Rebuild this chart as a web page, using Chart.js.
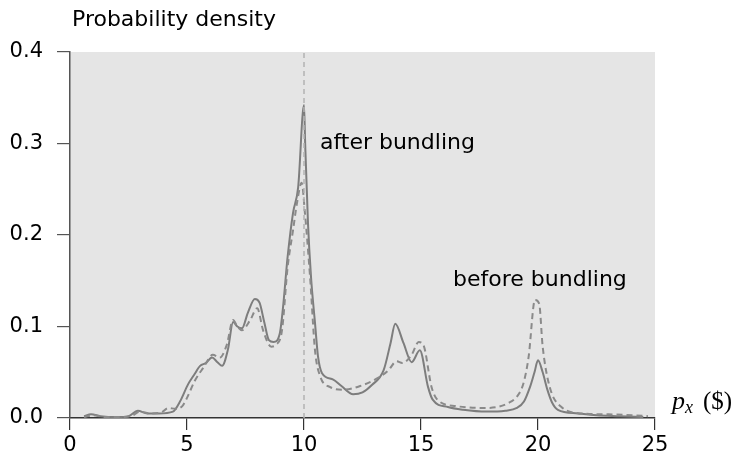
<!DOCTYPE html>
<html>
<head>
<meta charset="utf-8">
<script src="https://cdn.jsdelivr.net/npm/chart.js@4.4.1/dist/chart.umd.min.js"></script>
<style>
  html, body { margin: 0; padding: 0; background: #fff; }
  #wrap { width: 743px; height: 470px; }
</style>
</head>
<body>
<div id="wrap"><canvas id="densidade" width="743" height="470"></canvas></div>
<script>
// price grid and density after bundling (solid line)
const afterX = [0.6, 0.9, 1.3, 2.0, 2.5, 2.9, 3.3, 3.8, 4.4, 4.7, 5.05, 5.3, 5.56, 5.8, 6.07, 6.3, 6.5, 6.75, 6.97, 7.15,
  7.35, 7.6, 7.9, 8.1, 8.3, 8.5, 8.7, 8.97, 9.1, 9.3, 9.53, 9.75, 10.0, 10.05, 10.17, 10.3, 10.47, 10.6, 10.77, 11.25,
  11.6, 12.1, 12.5, 12.9, 13.4, 13.7, 13.9, 14.25, 14.6, 14.95, 15.3, 15.5, 16.15, 16.8, 17.8, 18.6, 19.1, 19.4, 19.66,
  19.85, 20.0, 20.2, 20.4, 20.6, 20.85, 21.7, 22.5, 23.5, 24.5];
const afterY = [0.002, 0.004, 0.002, 0.001, 0.002, 0.008, 0.005, 0.005, 0.007, 0.018, 0.037, 0.047, 0.057, 0.06, 0.066, 0.061, 0.057, 0.075, 0.105, 0.1,
  0.098, 0.115, 0.13, 0.126, 0.105, 0.085, 0.083, 0.093, 0.12, 0.176, 0.224, 0.252, 0.342, 0.3, 0.213, 0.154, 0.104, 0.067, 0.049, 0.042,
  0.035, 0.026, 0.028, 0.036, 0.052, 0.082, 0.103, 0.082, 0.061, 0.074, 0.034, 0.02, 0.012, 0.009, 0.007, 0.008, 0.011, 0.018, 0.034,
  0.05, 0.063, 0.05, 0.031, 0.017, 0.009, 0.005, 0.003, 0.002, 0.001];

// density before bundling (dashed line)
const beforeX = [0.6, 1.0, 1.5, 2.0, 2.6, 3.0, 3.4, 3.9, 4.2, 4.5, 4.8, 5.0, 5.34, 5.7, 6.1, 6.4, 6.7, 6.97, 7.15, 7.35,
  7.7, 8.0, 8.25, 8.6, 8.8, 9.06, 9.3, 9.53, 9.7, 9.9, 10.04, 10.26, 10.47, 10.7, 11.1, 11.7, 12.4, 13.1, 13.6, 13.96,
  14.2, 14.6, 14.9, 15.1, 15.45, 15.7, 16.5, 17.8, 18.7, 19.2, 19.4, 19.6, 19.87, 20.05, 20.2, 20.5, 21.0, 21.9, 23.0,
  24.0, 24.7];
const beforeY = [0.001, 0.003, 0.001, 0.001, 0.002, 0.007, 0.005, 0.006, 0.011, 0.01, 0.013, 0.022, 0.041, 0.055, 0.069, 0.066, 0.08, 0.107, 0.1, 0.096,
  0.107, 0.12, 0.096, 0.078, 0.08, 0.096, 0.165, 0.205, 0.235, 0.257, 0.224, 0.154, 0.074, 0.045, 0.034, 0.031, 0.035, 0.043, 0.052, 0.062,
  0.06, 0.069, 0.083, 0.08, 0.034, 0.02, 0.013, 0.011, 0.016, 0.027, 0.04, 0.067, 0.129, 0.125, 0.078, 0.034, 0.012, 0.005, 0.004,
  0.003, 0.002];

// reference price marked with the vertical dashed line
const refPrice = 10;

const xTicks = [0, 5, 10, 15, 20, 25];
const yTicks = [0.0, 0.1, 0.2, 0.3, 0.4];

const FONT = '"DejaVu Sans", sans-serif';

function toPoints(xs, ys) {
  return xs.map((x, i) => ({ x: x, y: ys[i] }));
}

// gray panel behind the curves
const panelBg = {
  id: 'panelBg',
  beforeDraw(chart) {
    const a = chart.chartArea;
    const ctx = chart.ctx;
    ctx.save();
    ctx.fillStyle = '#e5e5e5';
    ctx.fillRect(a.left, a.top, a.right - a.left, a.bottom - a.top);
    ctx.restore();
  }
};

// axis titles and curve labels
const labels = {
  id: 'labels',
  afterDraw(chart) {
    const ctx = chart.ctx;
    const a = chart.chartArea;
    const xs = chart.scales.x;
    const ys = chart.scales.y;
    ctx.save();
    ctx.fillStyle = '#000';
    ctx.textBaseline = 'middle';
    ctx.textAlign = 'left';
    ctx.font = '22px ' + FONT;
    ctx.fillText('Probability density', 72, 20);
    ctx.fillText('after bundling', xs.getPixelForValue(10.68), ys.getPixelForValue(0.30));
    ctx.fillText('before bundling', xs.getPixelForValue(16.37), ys.getPixelForValue(0.151));

    // p_x ($)
    let px = a.right + 17;
    const base = a.bottom - 9;
    ctx.textBaseline = 'alphabetic';
    ctx.font = 'italic 26px "Liberation Serif", "DejaVu Serif", serif';
    ctx.fillText('p', px, base);
    px += ctx.measureText('p').width;
    ctx.font = 'italic 18px "Liberation Serif", "DejaVu Serif", serif';
    ctx.fillText('x', px, base + 4);
    px += ctx.measureText('x').width + 10;
    ctx.font = '25px "Liberation Serif", "DejaVu Serif", serif';
    ctx.fillText('($)', px, base);
    ctx.restore();
  }
};

const ctx = document.getElementById('densidade').getContext('2d');
const grafico = new Chart(ctx, {
  type: 'line',
  data: {
    datasets: [
      {
        label: 'reference',
        data: [{ x: refPrice, y: yTicks[0] }, { x: refPrice, y: yTicks[yTicks.length - 1] }],
        borderColor: '#b3b3b3',
        borderWidth: 1.5,
        borderDash: [5, 4],
        pointRadius: 0
      },
      {
        label: 'before bundling',
        data: toPoints(beforeX, beforeY),
        borderColor: '#8a8a8a',
        borderWidth: 2,
        borderDash: [6, 4],
        pointRadius: 0,
        cubicInterpolationMode: 'monotone'
      },
      {
        label: 'after bundling',
        data: toPoints(afterX, afterY),
        borderColor: '#7d7d7d',
        borderWidth: 2,
        pointRadius: 0,
        cubicInterpolationMode: 'monotone'
      }
    ]
  },
  options: {
    responsive: false,
    animation: false,
    layout: { padding: { top: 52, right: 88, left: 0, bottom: 0 } },
    plugins: { legend: { display: false }, tooltip: { enabled: false } },
    scales: {
      x: {
        type: 'linear',
        min: xTicks[0],
        max: xTicks[xTicks.length - 1],
        afterBuildTicks(scale) { scale.ticks = xTicks.map(v => ({ value: v })); },
        afterFit(scale) { scale.height = 52; },
        ticks: { color: '#000', font: { family: FONT, size: 21 }, padding: 3, maxRotation: 0 },
        grid: { drawOnChartArea: false, tickLength: 12, color: '#333', lineWidth: 1.2 },
        border: { color: '#333', width: 1.5 }
      },
      y: {
        type: 'linear',
        min: yTicks[0],
        max: yTicks[yTicks.length - 1],
        afterBuildTicks(scale) { scale.ticks = yTicks.map(v => ({ value: v })); },
        afterFit(scale) { scale.width = 70; },
        ticks: {
          color: '#000',
          font: { family: FONT, size: 21 },
          padding: 14,
          callback: v => v.toFixed(1)
        },
        grid: { drawOnChartArea: false, tickLength: 13, color: '#555', lineWidth: 1.2 },
        border: { color: '#555', width: 1.5 }
      }
    }
  },
  plugins: [panelBg, labels]
});
</script>
</body>
</html>
